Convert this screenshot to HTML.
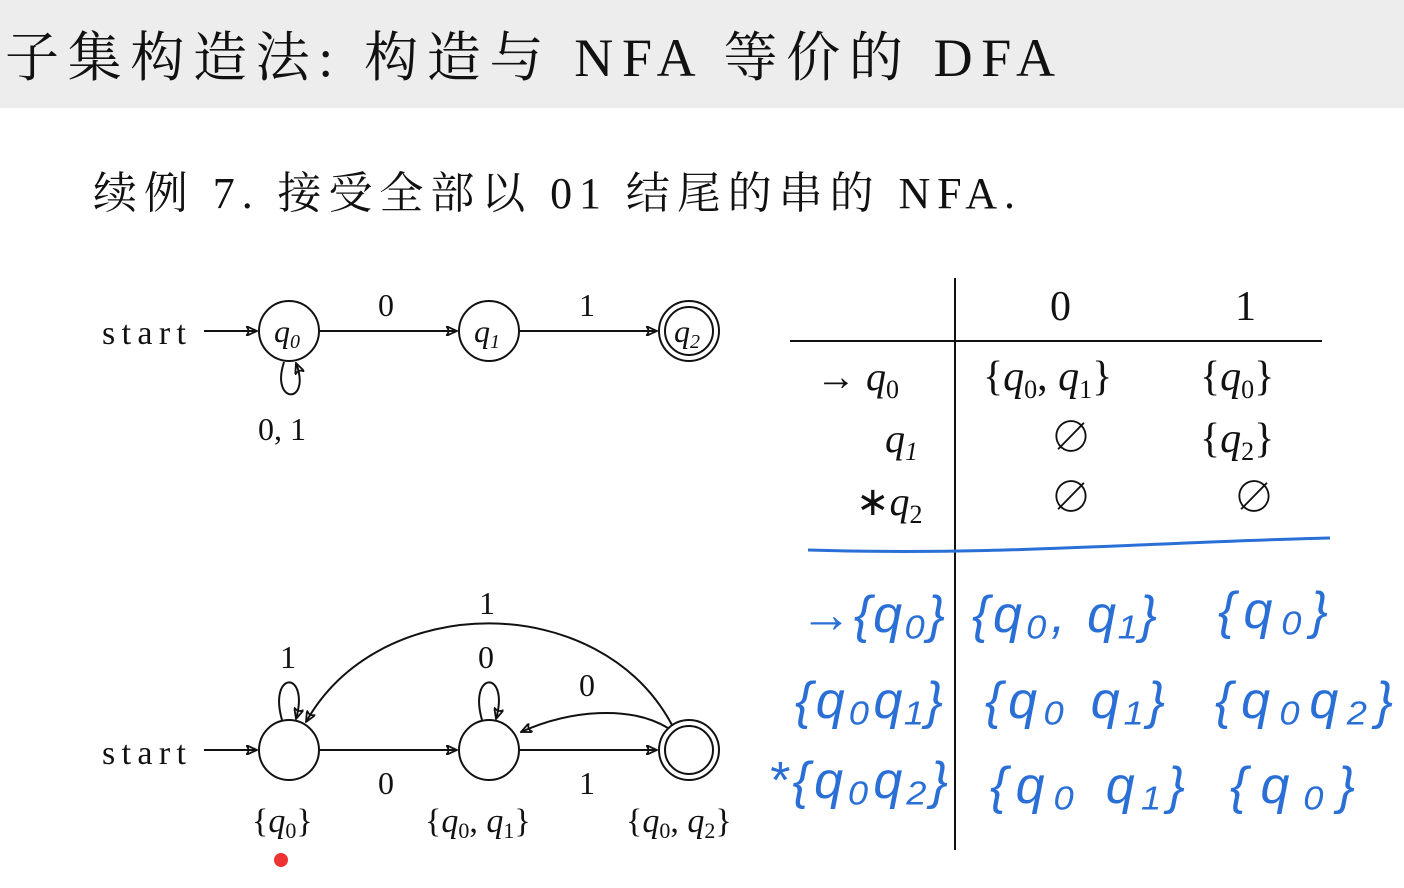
<!DOCTYPE html>
<html><head><meta charset="utf-8"><style>
html,body{margin:0;padding:0;background:#fff;}
svg{display:block}
text{font-family:"Liberation Serif","Noto Serif CJK SC",serif;fill:#111}
.m{font-style:italic}
.b{fill:#2a6fd6;font-family:"Liberation Sans",sans-serif;font-style:italic}
</style></head><body>
<svg width="1404" height="888" viewBox="0 0 1404 888" xmlns="http://www.w3.org/2000/svg">
<defs><marker id="a" markerWidth="12" markerHeight="10" refX="11" refY="5" orient="auto" markerUnits="userSpaceOnUse"><path d="M0,0 Q5,5 0,10 M0,0 L11,5 L0,10" fill="none" stroke="#111" stroke-width="1.8"/></marker></defs>
<rect x="0" y="0" width="1404" height="108" fill="#ededed"/>
<text x="5" y="76" font-size="54" textLength="1050" lengthAdjust="spacing">子集构造法: 构造与 NFA 等价的 DFA</text>
<text x="93" y="208" font-size="44" textLength="922" lengthAdjust="spacing">续例 7. 接受全部以 01 结尾的串的 NFA.</text>

<g stroke="#111" stroke-width="2" fill="none">
<line x1="204" y1="331" x2="257" y2="331" marker-end="url(#a)"/>
<circle cx="289" cy="331" r="30"/>
<line x1="319" y1="331" x2="457" y2="331" marker-end="url(#a)"/>
<circle cx="489" cy="331" r="30"/>
<line x1="519" y1="331" x2="657" y2="331" marker-end="url(#a)"/>
<circle cx="689" cy="331" r="30"/><circle cx="689" cy="331" r="24"/>
<path d="M284,362 C270,405 312,405 296,363" marker-end="url(#a)"/>
</g>
<text x="102" y="344" font-size="34" textLength="84">start</text>
<text x="274" y="342" font-size="32" class="m">q<tspan font-size="20" dy="6">0</tspan></text>
<text x="474" y="342" font-size="32" class="m">q<tspan font-size="20" dy="6">1</tspan></text>
<text x="674" y="342" font-size="32" class="m">q<tspan font-size="20" dy="6">2</tspan></text>
<text x="378" y="316" font-size="32">0</text>
<text x="579" y="316" font-size="32">1</text>
<text x="258" y="440" font-size="32">0, 1</text>

<g stroke="#111" stroke-width="2" fill="none">
<line x1="955" y1="278" x2="955" y2="850"/>
<line x1="790" y1="341" x2="1322" y2="341"/>
<line x1="204" y1="750" x2="257" y2="750" marker-end="url(#a)"/>
<circle cx="289" cy="750" r="30"/>
<line x1="319" y1="750" x2="457" y2="750" marker-end="url(#a)"/>
<circle cx="489" cy="750" r="30"/>
<line x1="519" y1="750" x2="657" y2="750" marker-end="url(#a)"/>
<circle cx="689" cy="750" r="30"/><circle cx="689" cy="750" r="24"/>
<path d="M282,720 C268,670 310,670 296,719" marker-end="url(#a)"/>
<path d="M482,720 C468,670 510,670 496,719" marker-end="url(#a)"/>
<path d="M668,728 C630,705 570,710 521,732" marker-end="url(#a)"/>
<path d="M672,725 C600,590 380,590 306,722" marker-end="url(#a)"/>
</g>
<text x="102" y="764" font-size="34" textLength="84">start</text>
<text x="280" y="668" font-size="32">1</text>
<text x="478" y="668" font-size="32">0</text>
<text x="579" y="696" font-size="32">0</text>
<text x="479" y="614" font-size="32">1</text>
<text x="378" y="794" font-size="32">0</text>
<text x="579" y="794" font-size="32">1</text>
<text x="252" y="832" font-size="34">{<tspan class="m">q</tspan><tspan font-size="22" dy="6">0</tspan><tspan dy="-6">}</tspan></text>
<text x="425" y="832" font-size="34">{<tspan class="m">q</tspan><tspan font-size="22" dy="6">0</tspan><tspan dy="-6">, </tspan><tspan class="m">q</tspan><tspan font-size="22" dy="6">1</tspan><tspan dy="-6">}</tspan></text>
<text x="626" y="832" font-size="34">{<tspan class="m">q</tspan><tspan font-size="22" dy="6">0</tspan><tspan dy="-6">, </tspan><tspan class="m">q</tspan><tspan font-size="22" dy="6">2</tspan><tspan dy="-6">}</tspan></text>
<circle cx="281" cy="860" r="7" fill="#e33"/>

<text x="1050" y="320" font-size="42">0</text>
<text x="1235" y="320" font-size="42">1</text>
<text x="816" y="390" font-size="40">→ <tspan class="m">q</tspan><tspan font-size="26" dy="8">0</tspan></text>
<text x="885" y="452" font-size="40" class="m">q<tspan font-size="26" dy="8">1</tspan></text>
<text x="856" y="515" font-size="40">∗<tspan class="m">q</tspan><tspan font-size="26" dy="8">2</tspan></text>
<text x="983" y="390" font-size="42">{<tspan class="m">q</tspan><tspan font-size="26" dy="8">0</tspan><tspan dy="-8">, </tspan><tspan class="m">q</tspan><tspan font-size="26" dy="8">1</tspan><tspan dy="-8">}</tspan></text>
<text x="1200" y="390" font-size="42">{<tspan class="m">q</tspan><tspan font-size="26" dy="8">0</tspan><tspan dy="-8">}</tspan></text>
<text x="1050" y="452" font-size="42">∅</text>
<text x="1200" y="452" font-size="42">{<tspan class="m">q</tspan><tspan font-size="26" dy="8">2</tspan><tspan dy="-8">}</tspan></text>
<text x="1050" y="512" font-size="42">∅</text>
<text x="1233" y="512" font-size="42">∅</text>

<path d="M808,550 C1000,556 1150,542 1330,538" stroke="#2a6fd6" stroke-width="3" fill="none"/>
<g font-size="52">
<text class="b" x="800" y="632" textLength="145">→{q₀}</text>
<text class="b" x="972" y="632" textLength="185">{q₀, q₁}</text>
<text class="b" x="1218" y="628" textLength="110">{q₀}</text>
<text class="b" x="795" y="718" textLength="148">{q₀q₁}</text>
<text class="b" x="985" y="718" textLength="180">{q₀ q₁}</text>
<text class="b" x="1215" y="718" textLength="178">{q₀q₂}</text>
<text class="b" x="768" y="798" textLength="180">*{q₀q₂}</text>
<text class="b" x="990" y="803" textLength="195">{q₀ q₁}</text>
<text class="b" x="1230" y="803" textLength="125">{q₀}</text>
</g>
</svg>
</body></html>
